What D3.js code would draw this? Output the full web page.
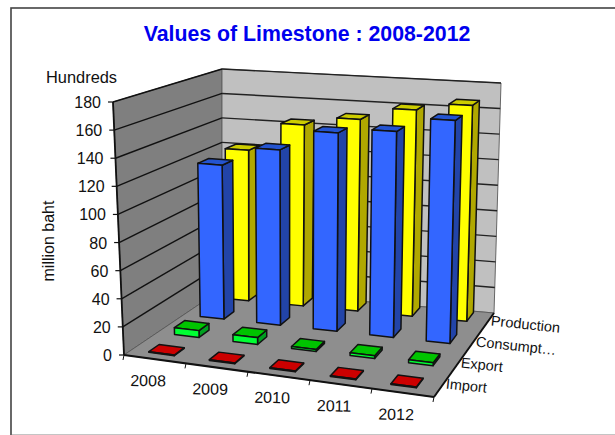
<!DOCTYPE html>
<html><head><meta charset="utf-8">
<script src="https://cdn.jsdelivr.net/npm/d3@7/dist/d3.min.js"></script>
<style>html,body{margin:0;padding:0;background:#fff}svg{display:block}text{font-family:"Liberation Sans",Arial,sans-serif;fill:#111}</style>
</head><body><svg id="c" width="615" height="435"></svg>
<script>
const titleText = "Values of Limestone : 2008-2012";
const categories = ["2008","2009","2010","2011","2012"];
const seriesNames = ["Import","Export","Consumption","Production"];
const seriesLabels = ["Import","Export","Consumpt…","Production"];
const importValues = [0.5,0.5,0.5,0.5,0.5];
const exportValues = [5,5,1.5,2,2];
const consumptionValues = [118,133,149,153,164];
const productionValues = [120,143,150,160,166];
const yTicks = [0,20,40,60,80,100,120,140,160,180];
const seriesValues = [importValues,exportValues,consumptionValues,productionValues];
const seriesColors = [
 {front:"#cc0000",side:"#8c0000",top:"#cc0000"},
 {front:"#00ff33",side:"#00a020",top:"#00c400"},
 {front:"#3366ff",side:"#2244a8",top:"#2454d0"},
 {front:"#ffff00",side:"#b0a800",top:"#cccc00"}
];

const bilinear=q=>(u,v)=>[0,1].map(k=>(1-u)*(1-v)*q[0][k]+u*(1-v)*q[1][k]+u*v*q[2][k]+(1-u)*v*q[3][k]);
const floorH=bilinear([[124,355],[434,397],[494,313],[222,289]]);
const ceilH=bilinear([[113,102],[440,127],[501,83],[222,69]]);
function P(u,v,w){const a=floorH(u,v),b=ceilH(u,v);return [a[0]+(b[0]-a[0])*w,a[1]+(b[1]-a[1])*w];}

const uScale=d3.scaleBand().domain(categories).range([0,0.985]).paddingInner(0.58).paddingOuter(0.29);
const vScale=d3.scaleBand().domain(seriesNames).range([0,1.06]).paddingInner(0.6).paddingOuter(0.28);
const yScale=d3.scaleLinear().domain([0,180]).range([0,1]);
const svg=d3.select("#c");
const line=d3.line();
const poly=(pts,fill,stroke,sw)=>svg.append("path").attr("d",line(pts)+"Z").attr("fill",fill).attr("stroke",stroke||"none").attr("stroke-width",sw||0).attr("stroke-linejoin","round");
const seg=(a,b,stroke,sw)=>svg.append("line").attr("x1",a[0]).attr("y1",a[1]).attr("x2",b[0]).attr("y2",b[1]).attr("stroke",stroke).attr("stroke-width",sw);

svg.append("rect").attr("x",11).attr("y",8).attr("width",700).attr("height",500).attr("fill","#fff").attr("stroke","#444").attr("stroke-width",1.6);
svg.append("rect").attr("x",12).attr("y",434).attr("width",603).attr("height",1).attr("fill","#c4c4c4");

svg.append("text").attr("x",307).attr("y",41).attr("text-anchor","middle").attr("font-size",21.3).attr("font-weight","bold").style("fill","#0000ee").text(titleText);
svg.append("text").attr("x",46).attr("y",83).attr("font-size",16.4).text("Hundreds");
svg.append("text").attr("transform","translate(54,241) rotate(-90)").attr("text-anchor","middle").attr("font-size",16).text("million baht");

// walls and floor
poly([P(0,0,0),P(0,1,0),P(0,1,1),P(0,0,1)],"#7f7f7f","#555",1);
poly([P(0,1,0),P(1,1,0),P(1,1,1),P(0,1,1)],"#c0c0c0","#666",1);
poly([P(0,0,0),P(1,0,0),P(1,1,0),P(0,1,0)],"#8e8e8e","#555",0.8);
yTicks.forEach(t=>{
  const w=yScale(t);
  if(t>0){seg(P(0,0,w),P(0,1,w),"#111",1.4);seg(P(0,1,w),P(1,1,w),"#222",1.4);}
  const a=P(0,0,w);
  seg([a[0]-5,a[1]],a,"#111",1.2);
  svg.append("text").attr("x",a[0]-12).attr("y",a[1]+6).attr("text-anchor","end").attr("font-size",16).text(t);
});
// axes
seg(P(0,0,0),P(0,0,1),"#111",1.8);
seg(P(0,0,0),P(1,0,0),"#111",2);
seg(P(1,0,0),P(1,1,0),"#111",2);
categories.concat(["end"]).forEach((c,i)=>{const a=P(i/5,0,0);seg(a,[a[0]-1,a[1]+5],"#111",1);});
categories.forEach((c,i)=>{
  const a=P((i+0.5)/5,0,0);
  svg.append("text").attr("transform",`translate(${a[0]-7},${a[1]+27}) rotate(1)`).attr("text-anchor","middle").attr("font-size",16).text(c);
});
seriesLabels.forEach((s,j)=>{
  const a=P(1,(j+0.5)/4,0);
  svg.append("text").attr("transform",`translate(${a[0]+4},${a[1]+2}) rotate(6)`).attr("font-size",14.5).text(s);
});

// bars: back series first
[3,2,1,0].forEach(j=>{
  const name=seriesNames[j],col=seriesColors[j];
  const v0=vScale(name),v1=v0+vScale.bandwidth();
  categories.forEach((c,i)=>{
    const u0=uScale(c),u1=u0+uScale.bandwidth(),w=yScale(seriesValues[j][i]);
    poly([P(u1,v0,0),P(u1,v1,0),P(u1,v1,w),P(u1,v0,w)],col.side,"#111",1.5);
    poly([P(u0,v0,w),P(u1,v0,w),P(u1,v1,w),P(u0,v1,w)],col.top,"#111",1.5);
    poly([P(u0,v0,0),P(u1,v0,0),P(u1,v0,w),P(u0,v0,w)],col.front,"#111",1.5);
  });
});
</script></body></html>
